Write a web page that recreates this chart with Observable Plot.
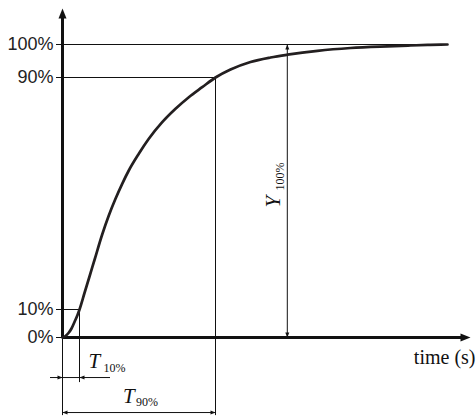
<!DOCTYPE html>
<html><head><meta charset="utf-8">
<script src="https://cdn.jsdelivr.net/npm/d3@7"></script>
<script src="https://cdn.jsdelivr.net/npm/@observablehq/plot@0.6"></script>
<style>body{margin:0;background:#fff} svg{display:block}</style>
</head><body><div id="chart"></div>
<script>
// step response (time in arbitrary units, response in %)
const time = [0, 0.074, 0.147, 0.221, 0.294, 0.368, 0.417, 0.539, 0.662, 0.784, 0.973, 1.135, 1.299, 1.463, 1.625, 1.870, 2.115, 2.444, 2.770, 3.096, 3.424, 3.75, 4.118, 4.608, 5.098, 5.515, 6.250, 7.059, 7.966, 8.529, 9.020, 9.436];
const response = [0, 0.54, 1.61, 3.21, 5.54, 8.04, 10, 15.69, 21.38, 27.07, 35.86, 42.41, 48.17, 53.34, 57.93, 63.69, 68.86, 74.59, 79.21, 83.21, 86.66, 90, 92.42, 94.70, 96.06, 96.91, 98.09, 98.94, 99.45, 99.70, 99.88, 100];
const yTicks = [0, 10, 90, 100];
const yTickLabels = ["0%", "10%", "90%", "100%"];
const t10 = 0.417, t90 = 3.75, tY = 5.51, tEnd = 9.436, tMax = 10;
const yTop = 110.9;
const rowT10 = -14.3, rowT90 = -26.8, extT10 = -16.1, extT90 = -27.9;
const xLabel = "time (s)";

const curve = time.map((t, i) => ({t, r: response[i]}));
const ticks = yTicks.map((y, i) => ({y, label: yTickLabels[i]}));
const ink = "#111";
const serif = "Liberation Serif";
const pxPerT = 408 / tMax;
const head = {draw(ctx, size) {
  const r = Math.sqrt(size / Math.PI);
  ctx.moveTo(0, 0); ctx.lineTo(-0.4 * r, r); ctx.lineTo(0.4 * r, r); ctx.closePath();
}};
const bigHeads = [{x: 0, y: yTop, rot: 0}, {x: tMax, y: 0, rot: 90}];
const smallHeads = [
  {x: tY, y: 100, rot: 0}, {x: tY, y: 0, rot: 180},
  {x: 0, y: rowT10, rot: 90}, {x: t10, y: rowT10, rot: 270},
  {x: 0, y: rowT90, rot: 270}, {x: t90, y: rowT90, rot: 90}
];

const chart = Plot.plot({
  width: 476, height: 419,
  x: {type: "linear", domain: [0, tMax], range: [62, 470], axis: null},
  y: {type: "linear", domain: [0, 10, 90, 100], range: [337, 309, 77, 44], axis: null},
  marks: [
    // reference lines (with the little ticks left of the axis)
    Plot.ruleY([{y: 100, x2: tEnd}, {y: 90, x2: t90}, {y: 10, x2: t10}], {y: "y", x1: 0, x2: "x2", stroke: ink, strokeWidth: 1}),
    Plot.ruleY(yTicks, {y: d => d, x1: -6 / pxPerT, x2: 0, stroke: ink, strokeWidth: 1}),
    // extension lines
    Plot.ruleX([{x: t10, y1: 10, y2: extT10}, {x: t90, y1: 90, y2: extT90}, {x: 0, y1: 0, y2: extT90}, {x: tY, y1: 0, y2: 100}],
      {x: "x", y1: "y1", y2: "y2", stroke: ink, strokeWidth: 1}),
    // dimension lines
    Plot.ruleY([{y: rowT10, x1: -12 / pxPerT, x2: t10 + 31 / pxPerT}, {y: rowT90, x1: 0, x2: t90}], {y: "y", x1: "x1", x2: "x2", stroke: ink, strokeWidth: 1}),
    Plot.dot(smallHeads, {x: "x", y: "y", rotate: "rot", symbol: head, r: 5, fill: ink, stroke: null}),
    // axes
    Plot.ruleX([0], {y1: 0, y2: yTop - 2, stroke: ink, strokeWidth: 3}),
    Plot.ruleY([0], {x1: 0, x2: tMax - 0.15, stroke: ink, strokeWidth: 3}),
    Plot.dot(bigHeads, {x: "x", y: "y", rotate: "rot", symbol: head, r: 10, fill: ink, stroke: null}),
    Plot.text(ticks, {x: 0, y: "y", text: "label", textAnchor: "end", dx: -9, fontSize: 18, fontFamily: "Liberation Sans", fill: "#222"}),
    // curve
    Plot.line(curve, {x: "t", y: "r", curve: "monotone-x", stroke: "#231f20", strokeWidth: 2.7}),
    // labels
    Plot.text([xLabel], {x: tMax, y: 0, text: d => d, textAnchor: "end", dx: 5, dy: 20, fontSize: 20, fontFamily: serif, fill: ink}),
    Plot.text(["T"], {x: t10, y: rowT10, text: d => d, textAnchor: "start", lineAnchor: "bottom", dx: 9, dy: -10, fontSize: 21, fontStyle: "italic", fontFamily: serif, fill: ink}),
    Plot.text(["10%"], {x: t10, y: rowT10, text: d => d, textAnchor: "start", lineAnchor: "bottom", dx: 24, dy: -6, fontSize: 12, fontFamily: serif, fill: ink}),
    Plot.text(["T"], {x: t90 / 2, y: rowT90, text: d => d, textAnchor: "start", lineAnchor: "bottom", dx: -16, dy: -10, fontSize: 21, fontStyle: "italic", fontFamily: serif, fill: ink}),
    Plot.text(["90%"], {x: t90 / 2, y: rowT90, text: d => d, textAnchor: "start", lineAnchor: "bottom", dx: -3, dy: -7, fontSize: 12, fontFamily: serif, fill: ink}),
    Plot.text(["Y"], {x: tY, y: 50, text: d => d, rotate: -90, textAnchor: "start", lineAnchor: "bottom", dx: -7, dy: 14, fontSize: 21, fontStyle: "italic", fontFamily: serif, fill: ink}),
    Plot.text(["100%"], {x: tY, y: 50, text: d => d, rotate: -90, textAnchor: "start", lineAnchor: "bottom", dx: -3.5, dy: -3, fontSize: 12, fontFamily: serif, fill: ink})
  ]
});
document.getElementById("chart").appendChild(chart);
</script>
</body></html>
